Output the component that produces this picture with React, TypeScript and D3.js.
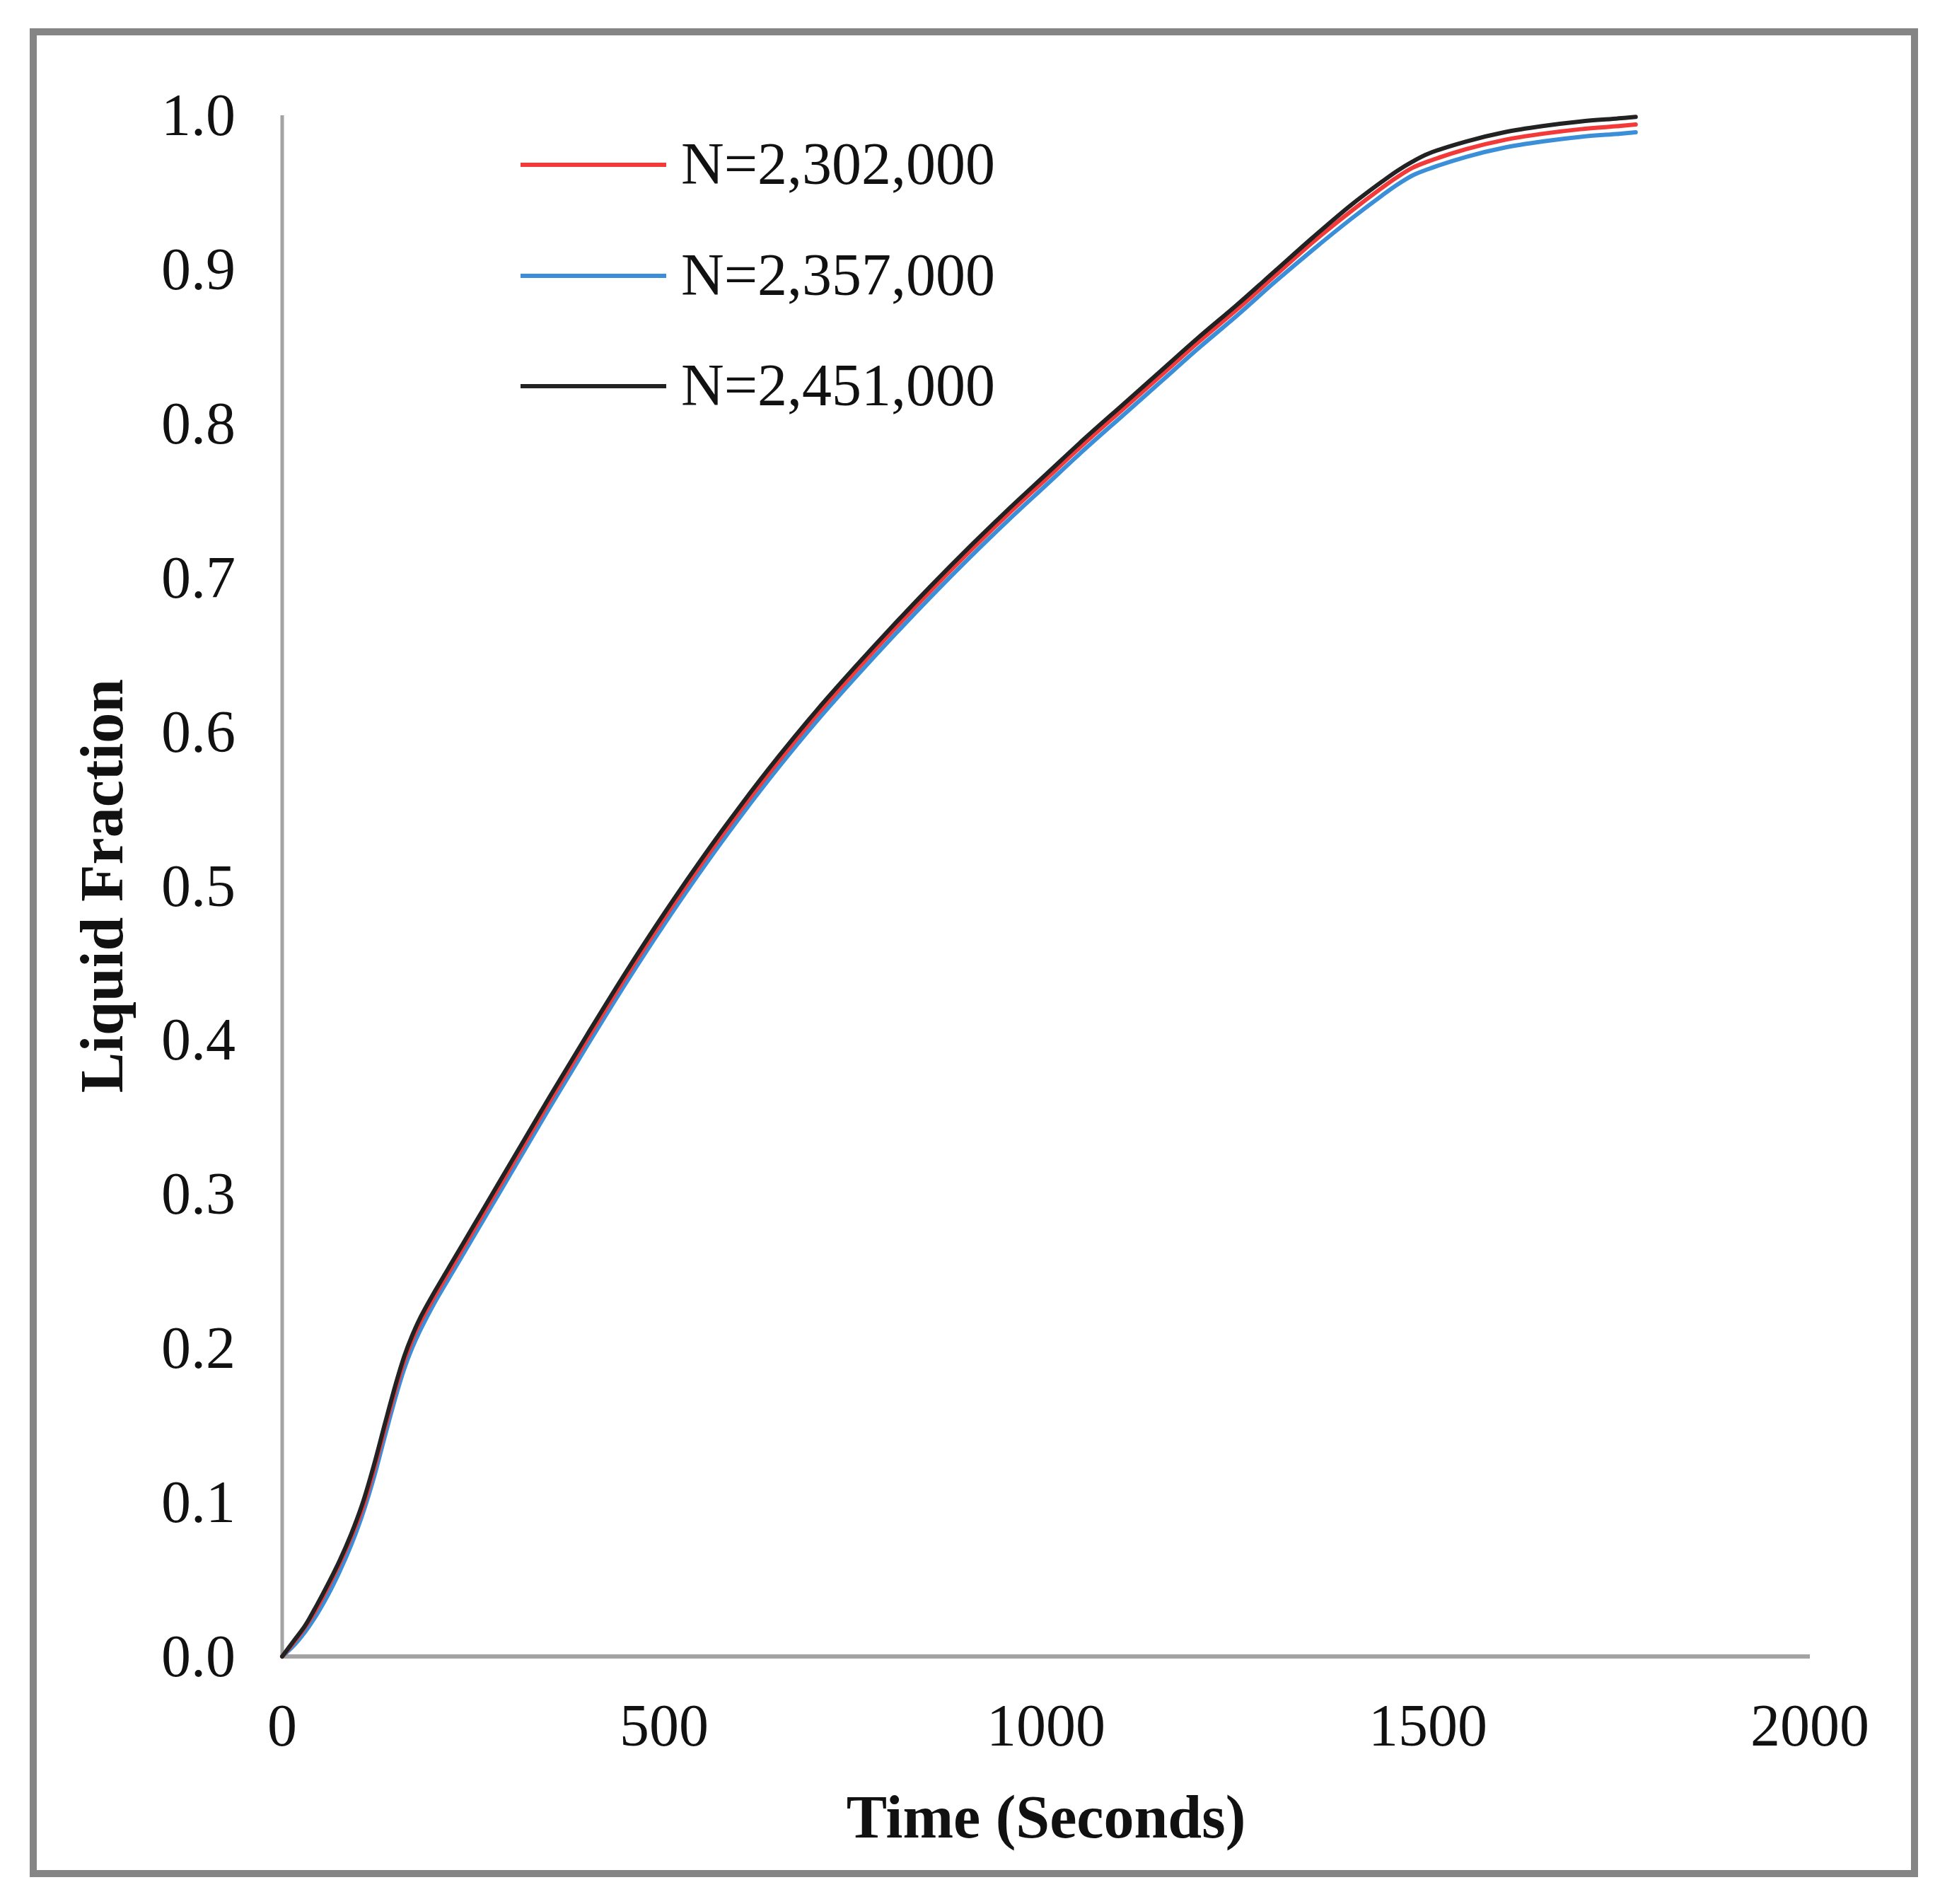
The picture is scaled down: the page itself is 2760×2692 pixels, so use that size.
import React from "react";
import * as d3 from "d3";

const times = [0, 15, 30, 45, 60, 75, 90, 105, 120, 135, 150, 160, 170, 180, 200, 225, 250, 275, 300, 350, 400, 450, 500, 550, 600, 650, 700, 750, 800, 850, 900, 950, 1000, 1050, 1100, 1150, 1200, 1250, 1300, 1350, 1400, 1440, 1460, 1480, 1500, 1550, 1600, 1650, 1700, 1750, 1772];

const n2302000 = [0.000, 0.009, 0.019, 0.031, 0.045, 0.060, 0.077, 0.096, 0.121, 0.149, 0.176, 0.192, 0.205, 0.216, 0.234, 0.255, 0.276, 0.297, 0.318, 0.360, 0.401, 0.441, 0.479, 0.515, 0.549, 0.581, 0.611, 0.639, 0.666, 0.692, 0.717, 0.741, 0.764, 0.787, 0.809, 0.831, 0.853, 0.874, 0.896, 0.918, 0.938, 0.953, 0.960, 0.966, 0.970, 0.978, 0.984, 0.988, 0.991, 0.993, 0.994];

const n2357000 = [0.000, 0.007, 0.016, 0.027, 0.040, 0.055, 0.072, 0.092, 0.116, 0.144, 0.171, 0.187, 0.200, 0.211, 0.230, 0.251, 0.272, 0.293, 0.314, 0.356, 0.397, 0.437, 0.475, 0.511, 0.545, 0.577, 0.607, 0.635, 0.662, 0.688, 0.713, 0.737, 0.760, 0.783, 0.805, 0.827, 0.849, 0.870, 0.892, 0.913, 0.933, 0.948, 0.955, 0.961, 0.965, 0.973, 0.979, 0.983, 0.986, 0.988, 0.989];

const n2451000 = [0.000, 0.010, 0.020, 0.033, 0.047, 0.062, 0.079, 0.099, 0.124, 0.152, 0.179, 0.195, 0.208, 0.219, 0.237, 0.258, 0.279, 0.300, 0.321, 0.363, 0.404, 0.444, 0.482, 0.518, 0.552, 0.584, 0.614, 0.642, 0.669, 0.695, 0.720, 0.744, 0.767, 0.790, 0.812, 0.834, 0.856, 0.877, 0.899, 0.921, 0.942, 0.957, 0.964, 0.970, 0.975, 0.983, 0.989, 0.993, 0.996, 0.998, 0.999];

const seriesNames = ["N=2,302,000", "N=2,357,000", "N=2,451,000"];
const seriesColors = ["#f23a3a", "#3b8fd8", "#222222"];
const seriesValues = [n2302000, n2357000, n2451000];
const drawOrder = [1, 0, 2];

const xTicks = [0, 500, 1000, 1500, 2000];
const yTicks = [0, 0.1, 0.2, 0.3, 0.4, 0.5, 0.6, 0.7, 0.8, 0.9, 1.0];

const W = 2760;
const H = 2692;
const FONT = "'Liberation Serif', 'Times New Roman', serif";

export default function App() {
  const x = d3.scaleLinear().domain([0, 2000]).range([399, 2559]);
  const y = d3.scaleLinear().domain([0, 1]).range([2342, 163]);

  const line = d3
    .line<number>()
    .x((_, i) => x(times[i]))
    .y((v) => y(v))
    .curve(d3.curveCatmullRom.alpha(0.5));

  const legendY = [233, 390, 546];

  return (
    <svg
      width={W}
      height={H}
      viewBox={`0 0 ${W} ${H}`}
      style={{ position: "absolute", left: 0, top: 0, display: "block", background: "#fff" }}
    >
      <rect x={0} y={0} width={W} height={H} fill="#ffffff" />
      <rect x={47} y={45} width={2660} height={2604} fill="none" stroke="#858585" strokeWidth={10} />

      <line x1={x(0)} x2={x(0)} y1={y(1)} y2={y(0)} stroke="#a3a3a3" strokeWidth={5} />
      <line x1={x(0)} x2={x(2000)} y1={y(0)} y2={y(0)} stroke="#a3a3a3" strokeWidth={6} />

      {yTicks.map((t) => (
        <text
          key={"y" + t}
          x={333}
          y={y(t) + 28}
          textAnchor="end"
          fontFamily={FONT}
          fontSize={84}
          fill="#111"
        >
          {t.toFixed(1)}
        </text>
      ))}
      {xTicks.map((t) => (
        <text
          key={"x" + t}
          x={x(t)}
          y={2468}
          textAnchor="middle"
          fontFamily={FONT}
          fontSize={84}
          fill="#111"
        >
          {t}
        </text>
      ))}

      <text
        x={(x(0) + x(2000)) / 2}
        y={2598}
        textAnchor="middle"
        fontFamily={FONT}
        fontWeight="bold"
        fontSize={86}
        fill="#111"
      >
        Time (Seconds)
      </text>
      <text
        transform={`translate(173, ${(y(0) + y(1)) / 2}) rotate(-90)`}
        textAnchor="middle"
        fontFamily={FONT}
        fontWeight="bold"
        fontSize={86}
        fill="#111"
      >
        Liquid Fraction
      </text>

      {drawOrder.map((si) => (
        <path
          key={"s" + si}
          d={line(seriesValues[si]) || ""}
          fill="none"
          stroke={seriesColors[si]}
          strokeWidth={6}
          strokeLinejoin="round"
          strokeLinecap="round"
        />
      ))}

      {seriesNames.map((name, i) => (
        <g key={"l" + i}>
          <line x1={736} x2={942} y1={legendY[i]} y2={legendY[i]} stroke={seriesColors[i]} strokeWidth={6} />
          <text x={963} y={legendY[i] + 27} fontFamily={FONT} fontSize={84} fill="#111">
            {name}
          </text>
        </g>
      ))}
    </svg>
  );
}
